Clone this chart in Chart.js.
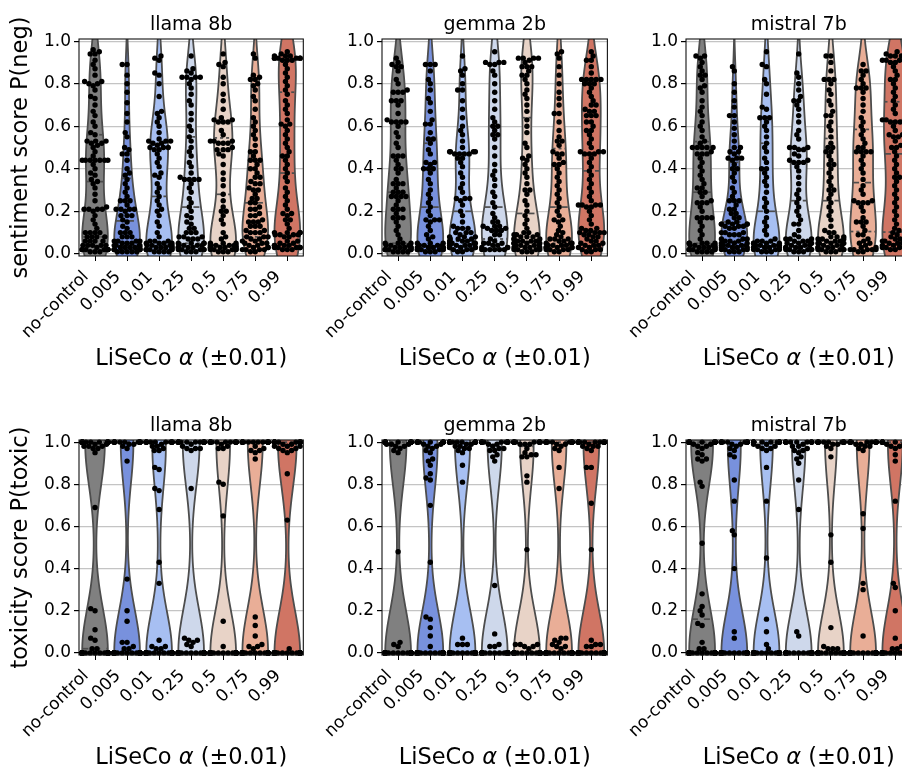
<!DOCTYPE html>
<html>
<head>
<meta charset="utf-8">
<title>LiSeCo score distributions</title>
<script src="https://cdn.jsdelivr.net/npm/chart.js@4.4.1/dist/chart.umd.min.js"></script>
<style>
  html, body { margin: 0; padding: 0; background: #fff; }
  #fig { position: relative; width: 902px; height: 771px; overflow: hidden; background: #fff; }
  #fig canvas { position: absolute; }
</style>
</head>
<body>
<div id="fig"></div>
<script>
// ---- categories and labels ----
const alphaLabels = ['no-control', '0.005', '0.01', '0.25', '0.5', '0.75', '0.99'];
const modelNames = ['llama 8b', 'gemma 2b', 'mistral 7b'];
const rowLabels = ['sentiment score P(neg)', 'toxicity score P(toxic)'];
const xAxisLabelParts = ['LiSeCo ', 'α', ' (±0.01)'];
const yTickValues = [0, 0.2, 0.4, 0.6, 0.8, 1.0];
const alphaColors = ['#808080', '#6788ee', '#9abbff', '#c9d7f0', '#edd1c2', '#f7a889', '#e26952'];

// ---- per-prompt scores, in percent, one list per alpha setting ----
const sentimentLlama = [
  [96,95,94,94,91,89,87,84,81,81,80,80,79,77,74,73,70,67,65,62,60,57,56,53,53,53,52,52,51,50,48,46,44,44,44,44,44,44,44,42,40,38,37,35,34,33,31,28,25,22,21,21,21,21,20,18,16,14,12,10,10,10,10,8,8,8,8,6,6,6,6,4,4,4,4,4,3,2,2,2,2,2,2,2,2,2,1,1,1],
  [89,89,84,80,76,71,66,62,57,55,50,49,47,47,44,40,38,37,35,33,31,29,27,25,25,25,23,21,21,21,21,20,18,18,18,16,15,13,12,10,10,10,8,8,8,6,6,6,6,5,5,5,4,4,4,4,3,3,3,3,3,2,2,2,2,2,2,1,1,1,1,1],
  [93,92,91,85,84,80,74,67,66,64,62,60,57,54,53,53,53,52,52,51,50,50,50,49,49,47,45,43,41,38,37,36,33,31,29,27,25,23,21,20,18,15,13,10,8,6,6,6,5,5,5,5,4,4,4,4,3,3,3,3,3,2,2,2,2,2,2,1,1,1,1],
  [93,87,86,85,83,83,83,83,82,80,78,75,72,70,66,63,60,58,55,53,50,48,46,43,41,38,36,35,35,35,35,33,31,29,26,24,22,20,18,17,15,14,12,12,10,10,10,8,8,8,7,7,7,5,5,5,5,4,4,4,4,3,3,3,3,2,2,2,2,2,1,1,1],
  [94,90,89,88,83,80,75,72,68,64,63,63,62,62,62,58,56,53,53,53,52,52,52,50,49,49,49,47,46,42,38,35,32,28,25,22,20,20,18,16,14,10,8,7,5,5,5,4,4,4,4,4,4,3,3,3,3,3,3,2,2,2,2,2,1,1,1],
  [94,92,84,83,82,82,80,79,77,74,72,68,64,62,60,58,56,54,51,48,48,46,44,44,44,42,40,40,38,36,36,34,33,33,31,30,30,28,26,26,24,24,22,21,21,19,18,18,16,15,15,15,13,13,13,11,11,10,10,10,8,8,8,7,7,6,6,5,5,5,4,4,3,3,3,2,2,2,2,1,1],
  [95,94,93,93,93,92,92,92,92,92,92,91,91,91,89,87,85,83,81,79,77,75,72,70,68,66,63,61,61,60,58,56,54,52,50,48,46,46,44,42,40,38,36,34,31,29,27,25,23,21,19,19,18,16,16,14,12,10,10,10,10,9,9,9,9,8,8,6,6,5,5,4,4,4,4,3,3,3,3,3,2,2,2]
];
const sentimentGemma = [
  [92,90,89,88,88,86,82,80,77,76,76,76,72,72,72,70,66,63,62,62,62,62,60,57,55,52,50,46,46,46,44,42,40,40,38,35,33,33,33,31,29,29,29,27,27,27,27,25,23,21,21,21,19,17,17,17,15,13,11,9,7,5,5,5,5,4,4,4,3,3,3,3,3,2,2,2,2,2,2,1,1,1,1],
  [89,89,89,86,82,80,77,73,71,67,63,61,61,57,54,54,52,49,47,43,43,42,40,40,40,38,35,33,30,28,26,24,22,20,18,16,16,16,15,13,11,9,8,7,5,5,5,4,4,4,4,3,3,3,3,3,2,2,2,2,2,2,1,1,1],
  [93,87,86,84,80,77,77,72,68,64,60,58,56,53,50,48,48,48,48,47,47,47,47,45,45,43,41,38,36,33,31,29,26,26,26,25,23,20,18,15,13,12,12,12,10,10,10,9,8,8,8,7,7,7,6,6,6,5,5,5,5,4,4,4,4,3,3,3,3,3,2,2,2,1,1],
  [95,90,90,90,89,89,86,84,80,76,72,68,64,62,60,60,58,56,56,54,50,46,42,39,37,35,32,29,27,24,22,19,17,15,15,13,13,13,12,12,11,11,11,9,9,7,6,5,5,5,4,4,3,3,3,2,2,2,2,2,2],
  [92,92,92,92,91,90,88,88,88,86,84,84,82,80,77,75,73,70,67,63,60,57,52,50,46,45,44,42,40,38,36,33,30,30,28,25,23,20,18,16,14,12,10,10,9,9,9,8,8,8,7,7,7,6,6,6,6,5,5,5,5,4,4,4,4,3,3,3,3,2,2,2,2,1,1,1],
  [95,94,92,88,84,80,76,73,70,66,66,62,58,55,53,53,51,48,47,47,45,43,42,42,40,38,36,34,32,30,28,26,24,22,20,18,16,16,15,13,11,10,9,8,7,7,7,6,6,5,5,5,4,4,4,4,3,3,3,3,3,2,2,2,2,1,1],
  [95,93,91,91,88,85,82,82,82,82,82,80,80,80,78,76,74,72,70,70,68,67,67,65,65,65,62,62,60,58,58,56,54,52,50,48,48,48,47,47,47,45,43,41,39,37,35,33,31,29,27,25,23,23,23,23,22,22,20,18,16,14,12,12,11,11,10,10,10,10,9,9,8,8,7,6,6,5,5,4,4,4,3,3,2,2,2,1,1]
];
const sentimentMistral = [
  [93,93,92,90,88,86,84,84,82,79,78,76,72,69,67,65,62,60,58,55,53,52,50,50,50,50,50,48,47,47,47,45,43,41,39,37,35,33,31,31,29,29,27,25,24,24,24,22,20,17,17,17,17,15,13,11,9,7,5,5,5,5,5,4,4,4,4,3,3,3,3,3,2,2,2,2,2,2,1,1,1,1],
  [88,86,80,76,72,69,65,65,62,59,56,53,50,50,48,48,47,45,45,45,44,42,40,40,38,36,34,31,29,27,25,25,25,23,21,21,19,19,17,17,15,15,14,14,14,14,14,13,13,13,12,12,10,10,10,9,9,9,7,7,7,6,6,6,5,5,5,4,4,4,4,4,3,3,3,3,2,2,2,2,1,1,1],
  [95,89,88,82,80,75,69,68,64,64,64,62,60,58,55,52,50,48,45,43,40,40,38,36,34,32,29,26,24,22,20,17,15,13,11,9,7,6,6,6,5,5,5,5,4,4,4,4,4,3,3,3,3,3,2,2,2,2,1,1,1],
  [94,85,83,80,77,74,72,72,70,68,65,62,58,56,54,50,50,50,49,49,47,46,44,44,43,43,43,41,39,36,33,30,28,26,24,22,20,18,16,14,14,11,9,8,7,7,7,6,6,6,5,5,5,4,4,4,3,3,3,3,2,2,2,2,2,1,1,1],
  [93,93,90,86,82,82,82,80,77,75,72,70,67,65,65,62,60,58,55,52,50,50,48,48,46,44,42,42,40,38,36,34,32,30,30,28,26,24,22,20,18,16,13,11,10,10,8,8,8,7,7,7,6,6,6,5,5,5,5,4,4,4,3,3,3,3,2,2,2,2,2,1,1,1],
  [89,86,86,84,82,80,78,78,78,76,73,70,67,64,62,60,58,56,54,52,50,50,48,48,48,48,46,44,42,40,38,35,32,30,28,25,25,24,24,24,22,20,17,15,15,15,13,11,9,9,7,6,5,5,4,3,3,2,2,2,2,2,1,1],
  [95,94,93,93,93,91,91,91,91,90,90,88,86,84,82,82,80,78,76,74,72,70,68,66,63,63,63,62,62,62,60,58,56,56,55,55,53,51,50,50,48,46,44,42,40,38,36,36,34,32,30,28,26,24,22,20,18,16,14,12,11,10,9,8,7,7,6,6,6,5,5,5,4,4,4,4,3,3,3,3,2,2]
];
const toxicityLlama = [
  [100,100,100,100,100,100,100,100,100,100, 100,100,100,100,100,100,100,100,100,100, 100,100,100,100,100,100,100,100,100,100,
   99,99,98,98,98,97,97,95,69,21,20,11,7,6,2,2,
   0,0,0,0,0,0,0,0,0,0, 0,0,0,0,0,0,0,0,0,0, 0,0,0,0,0,0,0,0,0,0, 0,0,0,0,0,0,0,0,0,0, 0,0,0,0],
  [100,100,100,100,100,100,100,100,100,100, 100,100,100,100,100,100,100,100,100,100, 100,100,100,
   99,99,98,97,91,35,20,15,5,5,3,2,2,
   0,0,0,0,0,0,0,0,0,0, 0,0,0,0,0,0,0,0,0,0, 0,0,0,0,0,0,0,0,0,0, 0,0,0,0,0,0,0,0,0,0, 0,0,0,0,0,0,0,0,0,0],
  [100,100,100,100,100,100,100,100,100,100, 100,100,100,100,100,100,100,100,100,100,
   99,98,98,97,96,96,88,87,78,77,68,43,33,6,3,3,2,2,
   0,0,0,0,0,0,0,0,0,0, 0,0,0,0,0,0,0,0,0,0, 0,0,0,0,0,0,0,0,0,0, 0,0,0,0,0,0,0,0,0,0, 0,0,0,0,0,0,0,0,0,0],
  [100,100,100,100,100,100,100,100,100,100, 100,100,100,100,100,100,100,100,100,100, 100,100,100,100,100,100,
   99,98,97,97,97,96,78,7,6,6,5,4,3,
   0,0,0,0,0,0,0,0,0,0, 0,0,0,0,0,0,0,0,0,0, 0,0,0,0,0,0,0,0,0,0, 0,0,0,0,0,0,0,0,0,0, 0,0,0,0],
  [100,100,100,100,100,100,100,100,100,100, 100,100,100,100,100,100,100,100,100,100, 100,100,
   99,98,97,97,81,80,65,15,3,
   0,0,0,0,0,0,0,0,0,0, 0,0,0,0,0,0,0,0,0,0, 0,0,0,0,0,0,0,0,0,0, 0,0,0,0,0,0,0,0,0,0, 0,0,0,0,0,0,0,0,0,0],
  [100,100,100,100,100,100,100,100,100,100, 100,100,100,100,100,100,100,100,100,100, 100,100,100,100,
   98,97,96,96,95,92,17,13,8,4,3,3,2,
   0,0,0,0,0,0,0,0,0,0, 0,0,0,0,0,0,0,0,0,0, 0,0,0,0,0,0,0,0,0,0, 0,0,0,0,0,0,0,0,0,0, 0,0,0,0,0],
  [100,100,100,100,100,100,100,100,100,100, 100,100,100,100,100,100,100,100,100,100, 100,100,100,100,100,100,
   99,99,98,98,98,97,97,96,96,95,85,63,2,
   0,0,0,0,0,0,0,0,0,0, 0,0,0,0,0,0,0,0,0,0, 0,0,0,0,0,0,0,0,0,0, 0,0,0,0,0,0,0,0,0,0, 0,0,0,0,0,0,0,0,0,0]
];
const toxicityGemma = [
  [100,100,100,100,100,100,100,100,100,100, 100,100,100,100,100,100,100,100,100,100, 100,100,100,100,100,
   99,99,99,98,98,97,96,95,48,5,4,3,
   0,0,0,0,0,0,0,0,0,0, 0,0,0,0,0,0,0,0,0,0, 0,0,0,0,0,0,0,0,0,0, 0,0,0,0,0,0,0,0,0,0, 0,0,0,0,0,0,0,0],
  [100,100,100,100,100,100,100,100,100,100, 100,100,100,100,100,100,100,100,
   99,99,98,98,97,96,95,92,91,89,85,83,82,70,43,17,16,12,8,3,
   0,0,0,0,0,0,0,0,0,0, 0,0,0,0,0,0,0,0,0,0, 0,0,0,0,0,0,0,0,0,0, 0,0,0,0,0,0,0,0,0,0, 0,0,0,0,0,0,0,0,0,0],
  [100,100,100,100,100,100,100,100,100,100, 100,100,100,100,100,100,100,100,100,100, 100,100,
   99,99,98,98,97,97,96,95,89,81,7,4,4,4,
   0,0,0,0,0,0,0,0,0,0, 0,0,0,0,0,0,0,0,0,0, 0,0,0,0,0,0,0,0,0,0, 0,0,0,0,0,0,0,0,0,0, 0,0,0,0,0,0,0,0,0,0],
  [100,100,100,100,100,100,100,100,100,100, 100,100,100,100,100,100,100,100,100,100,
   99,99,98,97,97,96,96,94,93,91,32,9,4,3,3,
   0,0,0,0,0,0,0,0,0,0, 0,0,0,0,0,0,0,0,0,0, 0,0,0,0,0,0,0,0,0,0, 0,0,0,0,0,0,0,0,0,0, 0,0,0,0,0,0,0,0,0,0],
  [100,100,100,100,100,100,100,100,100,100, 100,100,100,100,100,100,100,100,100,
   99,99,99,97,95,94,94,93,93,84,81,49,4,4,4,3,3,2,
   0,0,0,0,0,0,0,0,0,0, 0,0,0,0,0,0,0,0,0,0, 0,0,0,0,0,0,0,0,0,0, 0,0,0,0,0,0,0,0,0,0, 0,0,0,0,0,0,0,0,0,0],
  [100,100,100,100,100,100,100,100,100,100, 100,100,100,100,100,100,100,100,100,100, 100,100,100,100,
   99,99,98,97,96,88,78,7,7,6,5,4,3,3,2,
   0,0,0,0,0,0,0,0,0,0, 0,0,0,0,0,0,0,0,0,0, 0,0,0,0,0,0,0,0,0,0, 0,0,0,0,0,0,0,0,0,0, 0,0,0,0,0,0],
  [100,100,100,100,100,100,100,100,100,100, 100,100,100,100,100,100,100,100,100,100, 100,100,100,100,
   99,98,98,98,97,96,88,88,71,49,6,4,4,3,3,
   0,0,0,0,0,0,0,0,0,0, 0,0,0,0,0,0,0,0,0,0, 0,0,0,0,0,0,0,0,0,0, 0,0,0,0,0,0,0,0,0,0, 0,0,0,0,0,0,0,0]
];
const toxicityMistral = [
  [100,100,100,100,100,100,100,100,100,100, 100,100,100,100,100,100,100,100,100,100, 100,100,100,100,100,100,100,100,100,100, 100,100,
   99,99,98,98,97,95,94,92,92,91,81,79,52,28,22,20,18,14,13,5,2,2,
   0,0,0,0,0,0,0,0,0,0, 0,0,0,0,0,0,0,0,0,0, 0,0,0,0,0,0,0,0,0,0, 0,0,0,0,0,0,0,0,0,0, 0,0,0,0],
  [100,100,100,100,100,100,100,100,100,100, 100,100,100,100,100,100,100,100,
   99,99,98,97,96,94,93,82,72,58,56,40,10,7,
   0,0,0,0,0,0,0,0,0,0, 0,0,0,0,0,0,0,0,0,0, 0,0,0,0,0,0,0,0,0,0, 0,0,0,0,0,0,0,0,0,0, 0,0,0,0,0,0,0,0,0,0],
  [100,100,100,100,100,100,100,100,100,100, 100,100,100,100,100,100,100,100,
   99,99,98,98,97,97,96,88,72,45,16,10,4,2,
   0,0,0,0,0,0,0,0,0,0, 0,0,0,0,0,0,0,0,0,0, 0,0,0,0,0,0,0,0,0,0, 0,0,0,0,0,0,0,0,0,0, 0,0,0,0,0,0,0,0,0,0],
  [100,100,100,100,100,100,100,100,100,100, 100,100,100,100,100,100,
   99,98,98,97,96,96,95,93,92,90,82,68,10,8,
   0,0,0,0,0,0,0,0,0,0, 0,0,0,0,0,0,0,0,0,0, 0,0,0,0,0,0,0,0,0,0, 0,0,0,0,0,0,0,0,0,0, 0,0,0,0,0,0,0,0,0,0],
  [100,100,100,100,100,100,100,100,100,100, 100,100,100,100,100,100,100,100,100,
   99,99,98,97,93,56,43,12,3,2,2,2,
   0,0,0,0,0,0,0,0,0,0, 0,0,0,0,0,0,0,0,0,0, 0,0,0,0,0,0,0,0,0,0, 0,0,0,0,0,0,0,0,0,0, 0,0,0,0,0,0,0,0],
  [100,100,100,100,100,100,100,100,100,100, 100,100,100,100,100,100,100,100,100,
   99,99,98,98,97,96,66,59,33,30,8,
   0,0,0,0,0,0,0,0,0,0, 0,0,0,0,0,0,0,0,0,0, 0,0,0,0,0,0,0,0,0,0, 0,0,0,0,0,0,0,0,0,0, 0,0,0,0,0,0,0,0,0,0],
  [100,100,100,100,100,100,100,100,100,100, 100,100,100,100,100,100,100,100,100,100, 100,100,
   99,99,98,98,97,94,91,72,33,31,20,7,3,2,2,
   0,0,0,0,0,0,0,0,0,0, 0,0,0,0,0,0,0,0,0,0, 0,0,0,0,0,0,0,0,0,0, 0,0,0,0,0,0,0,0,0,0, 0,0,0,0,0,0]
];

// ---- figure geometry (pixels) ----
const PLOT_LEFT = [79, 382, 686];
const PLOT_WIDTH = [225, 226, 226];
const PLOT_TOP = [39, 440];
const PLOT_HEIGHT = [217, 215];
const MARGIN_L = 79, MARGIN_T = 39, MARGIN_B = 117, MARGIN_R = 4;
const DOT_D = 4.6;            // swarm spacing diameter
const DOT_R = 2.7;            // drawn dot radius
const VIOLIN_HALF = 0.4;      // half of violin width in category units
const FONT = '"DejaVu Sans", "Liberation Sans", sans-serif';
const TICK_SIZE = 17, TITLE_SIZE = 19, LABEL_SIZE = 22.5;

Chart.defaults.font.family = FONT;

// seaborn-like desaturation of the palette colours (HLS saturation * prop)
function desaturate(hex, prop) {
  const r = parseInt(hex.slice(1, 3), 16) / 255, g = parseInt(hex.slice(3, 5), 16) / 255, b = parseInt(hex.slice(5, 7), 16) / 255;
  const mx = Math.max(r, g, b), mn = Math.min(r, g, b), l = (mx + mn) / 2, dl = mx - mn;
  if (dl === 0) return hex;
  const c2 = dl * prop;
  const mn2 = l - c2 / 2;
  const f = ch => Math.round((mn2 + (ch - mn) / dl * c2) * 255);
  return `rgb(${f(r)},${f(g)},${f(b)})`;
}
const fillColors = alphaColors.map(c => desaturate(c, 0.75));
const EDGE = '#4d4d4d';

// Gaussian KDE with Scott's bandwidth, support extended by 2 bandwidths
function kde(vals) {
  const n = vals.length;
  const mean = vals.reduce((a, b) => a + b, 0) / n;
  const sd = Math.sqrt(vals.reduce((a, b) => a + (b - mean) * (b - mean), 0) / (n - 1));
  const bw = Math.pow(n, -0.2) * sd;
  const lo = Math.min(...vals) - 2 * bw, hi = Math.max(...vals) + 2 * bw;
  const support = [], density = [];
  for (let k = 0; k < 100; k++) {
    const s = lo + (hi - lo) * k / 99;
    let d = 0;
    for (const v of vals) { const z = (s - v) / bw; d += Math.exp(-0.5 * z * z); }
    support.push(s); density.push(d);
  }
  // each violin scaled to the same maximum width
  const mx = Math.max(...density);
  return { support, density: density.map(d => d / mx) };
}
function percentile(sorted, p) {
  const idx = p * (sorted.length - 1), lo = Math.floor(idx), hi = Math.ceil(idx);
  return sorted[lo] + (sorted[hi] - sorted[lo]) * (idx - lo);
}

// beeswarm placement in pixel space; values ordered ascending
function beeswarm(pos, d) {
  const placed = [];
  for (const y of pos) {
    const neigh = [];
    for (let j = placed.length - 1; j >= 0; j--) {
      if (Math.abs(placed[j].y - y) < d) neigh.push(placed[j]);
      else if (y - placed[j].y >= d) break;
    }
    let cands = [{ x: 0, y }];
    let leftFirst = true;
    neigh.forEach(p => {
      const dy = y - p.y;
      const dx = Math.sqrt(Math.max(d * d - dy * dy, 0)) * 1.05;
      const cl = { x: p.x - dx, y }, cr = { x: p.x + dx, y };
      if (leftFirst) cands.push(cl, cr); else cands.push(cr, cl);
      leftFirst = !leftFirst;
    });
    cands = cands.map((c, k) => ({ x: c.x, y: c.y, k })).sort((a, b) => (Math.abs(a.x) - Math.abs(b.x)) || (a.k - b.k));
    let chosen = cands[0];
    if (neigh.length) {
      for (const c of cands) {
        if (neigh.every(p => (p.x - c.x) ** 2 + (p.y - c.y) ** 2 >= d * d - 1e-6)) { chosen = c; break; }
      }
    }
    placed.push({ x: chosen.x, y });
  }
  return placed.map(p => p.x);
}

function violinPlugin(groups) {
  const fits = groups.map(g => kde(g.map(v => v / 100)));
  const quartiles = groups.map(g => {
    const s = g.map(v => v / 100).sort((a, b) => a - b);
    return [percentile(s, 0.25), percentile(s, 0.5), percentile(s, 0.75)];
  });
  return {
    id: 'violins',
    beforeDatasetsDraw(chart) {
      const { ctx, chartArea: a, scales: { x, y } } = chart;
      ctx.save();
      ctx.beginPath();
      ctx.rect(a.left, a.top, a.right - a.left, a.bottom - a.top);
      ctx.clip();
      fits.forEach((f, i) => {
        ctx.beginPath();
        f.support.forEach((s, k) => {
          const px = x.getPixelForValue(i - VIOLIN_HALF * f.density[k]), py = y.getPixelForValue(s);
          if (k === 0) ctx.moveTo(px, py); else ctx.lineTo(px, py);
        });
        for (let k = f.support.length - 1; k >= 0; k--) {
          ctx.lineTo(x.getPixelForValue(i + VIOLIN_HALF * f.density[k]), y.getPixelForValue(f.support[k]));
        }
        ctx.closePath();
        ctx.fillStyle = fillColors[i];
        ctx.fill();
        ctx.lineWidth = 1.8;
        ctx.strokeStyle = EDGE;
        ctx.lineJoin = 'round';
        ctx.stroke();
        // quartile lines
        quartiles[i].forEach((q, qi) => {
          let best = 0;
          f.support.forEach((s, k) => { if (Math.abs(s - q) < Math.abs(f.support[best] - q)) best = k; });
          const w = VIOLIN_HALF * f.density[best] * 0.99;
          ctx.beginPath();
          ctx.setLineDash(qi === 1 ? [6, 6] : [3, 3]);
          ctx.lineWidth = 1.7;
          ctx.moveTo(x.getPixelForValue(i - w), y.getPixelForValue(q));
          ctx.lineTo(x.getPixelForValue(i + w), y.getPixelForValue(q));
          ctx.stroke();
          ctx.setLineDash([]);
        });
      });
      ctx.restore();
    }
  };
}

function annotatePlugin(title) {
  return {
    id: 'annotate',
    afterDraw(chart) {
      const { ctx, chartArea: a } = chart;
      ctx.save();
      ctx.strokeStyle = '#111';
      ctx.lineWidth = 1.1;
      ctx.strokeRect(a.left, a.top, a.right - a.left, a.bottom - a.top);
      const cx = (a.left + a.right) / 2;
      ctx.fillStyle = '#000';
      ctx.textBaseline = 'alphabetic';
      ctx.textAlign = 'left';
      ctx.font = `${TITLE_SIZE}px ${FONT}`;
      const tw = ctx.measureText(title).width;
      ctx.fillText(title, cx - tw / 2, a.top - 9);
      const fonts = [`${LABEL_SIZE}px ${FONT}`, `italic ${LABEL_SIZE}px ${FONT}`, `${LABEL_SIZE}px ${FONT}`];
      const widths = xAxisLabelParts.map((t, k) => { ctx.font = fonts[k]; return ctx.measureText(t).width; });
      let xx = cx - widths.reduce((p, w) => p + w, 0) / 2;
      xAxisLabelParts.forEach((t, k) => { ctx.font = fonts[k]; ctx.fillText(t, xx, a.bottom + 109); xx += widths[k]; });
      ctx.restore();
    }
  };
}

const panels = [
  { row: 0, col: 0, values: sentimentLlama }, { row: 0, col: 1, values: sentimentGemma }, { row: 0, col: 2, values: sentimentMistral },
  { row: 1, col: 0, values: toxicityLlama }, { row: 1, col: 1, values: toxicityGemma }, { row: 1, col: 2, values: toxicityMistral }
];

const fig = document.getElementById('fig');
panels.forEach(p => {
  const W = MARGIN_L + PLOT_WIDTH[p.col] + MARGIN_R;
  const H = MARGIN_T + PLOT_HEIGHT[p.row] + MARGIN_B;
  const canvas = document.createElement('canvas');
  canvas.width = W; canvas.height = H;
  canvas.style.left = (PLOT_LEFT[p.col] - MARGIN_L) + 'px';
  canvas.style.top = (PLOT_TOP[p.row] - MARGIN_T) + 'px';
  canvas.style.width = W + 'px'; canvas.style.height = H + 'px';
  fig.appendChild(canvas);

  const chart = new Chart(canvas, {
    type: 'scatter',
    data: {
      datasets: p.values.map((vals, i) => ({
        data: vals.map(v => ({ x: i, y: v / 100 })),
        pointRadius: DOT_R, pointHoverRadius: DOT_R, pointBorderWidth: 0,
        backgroundColor: '#000', borderColor: '#000', clip: false
      }))
    },
    options: {
      responsive: false, animation: false, devicePixelRatio: 1, events: [],
      layout: { padding: { top: MARGIN_T, right: MARGIN_R, left: 0, bottom: 0 } },
      plugins: { legend: { display: false }, tooltip: { enabled: false }, title: { display: false } },
      scales: {
        x: {
          type: 'linear', position: 'bottom', min: -0.5, max: 6.5,
          afterBuildTicks: s => { s.ticks = alphaLabels.map((_, i) => ({ value: i })); },
          afterFit: s => { s.height = MARGIN_B; },
          grid: { display: true, drawOnChartArea: false, drawTicks: true, tickLength: 5, tickColor: '#000', color: '#000', lineWidth: 1 },
          border: { display: false },
          ticks: {
            autoSkip: false, minRotation: 45, maxRotation: 45, padding: 6, labelOffset: -9,
            color: '#000', font: { size: TICK_SIZE },
            callback: v => alphaLabels[Math.round(v)]
          }
        },
        y: {
          type: 'linear', min: -0.01, max: 1.01,
          afterBuildTicks: s => { s.ticks = yTickValues.map(v => ({ value: v })); },
          afterFit: s => { s.width = MARGIN_L; },
          grid: { color: '#c4c4c4', lineWidth: 1.2, tickColor: '#000', tickLength: 5, drawTicks: true },
          border: { display: false },
          ticks: { color: '#000', padding: 3, font: { size: TICK_SIZE }, callback: v => v.toFixed(1) },
          title: {
            display: p.col === 0, text: rowLabels[p.row], color: '#000',
            font: { size: LABEL_SIZE }, padding: { top: 8, bottom: 0 }
          }
        }
      }
    },
    plugins: [violinPlugin(p.values), annotatePlugin(modelNames[p.col])]
  });

  // lay the dots out as a swarm using the chart's own scales
  const xs = chart.scales.x, ys = chart.scales.y;
  const unit = xs.getPixelForValue(1) - xs.getPixelForValue(0);
  const half = VIOLIN_HALF * unit;
  p.values.forEach((vals, i) => {
    const sorted = vals.map(v => v / 100).sort((a, b) => a - b);
    const offs = beeswarm(sorted.map(v => -ys.getPixelForValue(v)), DOT_D);
    chart.data.datasets[i].data = sorted.map((v, k) => ({
      x: i + Math.max(-half, Math.min(half, offs[k])) / unit, y: v
    }));
  });
  chart.update('none');
});
</script>
</body>
</html>
